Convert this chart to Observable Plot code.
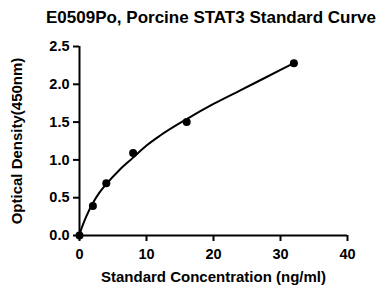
<!DOCTYPE html>
<html>
<head>
<meta charset="utf-8">
<script src="https://cdn.jsdelivr.net/npm/d3@7"></script>
<script src="https://cdn.jsdelivr.net/npm/@observablehq/plot@0.6"></script>
<style>
  body { margin: 0; background: #fff; font-family: "Liberation Sans", Arial, sans-serif; }
  #title { box-sizing: border-box; width: 385px; height: 32px; padding-top: 9px; padding-left: 37px;
    font-size: 17px; line-height: 17px; font-weight: bold; text-align: center; color: #000; white-space: nowrap; }
</style>
</head>
<body>
<div id="title">E0509Po, Porcine STAT3 Standard Curve</div>
<div id="chart"></div>
<script>
// Measured standards
const concentration = [0, 2, 4, 8, 16, 32];
const density = [0, 0.39, 0.69, 1.09, 1.50, 2.28];

// Fitted curve
const curveX = [0, 0.25, 0.5, 1, 2, 3, 4, 6, 8, 10, 12, 16, 20, 24, 28, 32];
const curveY = [0, 0.08, 0.14, 0.25, 0.43, 0.57, 0.68, 0.87, 1.03, 1.19, 1.32, 1.54, 1.74, 1.92, 2.10, 2.28];

const xTicks = [0, 10, 20, 30, 40];
const yTicks = [0, 0.5, 1.0, 1.5, 2.0, 2.5];

const points = concentration.map((c, i) => ({x: c, y: density[i]}));
const curve = curveX.map((c, i) => ({x: c, y: curveY[i]}));

const plot = Plot.plot({
  width: 385,
  height: 259,
  marginLeft: 79,
  marginRight: 38,
  marginTop: 14,
  marginBottom: 56,
  style: {fontFamily: '"Liberation Sans", Arial, sans-serif', fontSize: "15px", fontWeight: "bold", color: "#000", background: "#fff"},
  x: {domain: [0, 40]},
  y: {domain: [0, 2.5]},
  marks: [
    Plot.axisX({ticks: xTicks, tickSize: 6, tickPadding: 7, strokeWidth: 2, tickFormat: d3.format("d"),
      fontSize: 14.5, label: null}),
    Plot.axisX({ticks: [], label: "Standard Concentration (ng/ml)", labelAnchor: "center", labelArrow: "none", labelOffset: 46}),
    Plot.axisY({ticks: yTicks, tickSize: 6, tickPadding: 4, strokeWidth: 2, tickFormat: d3.format(".1f"),
      fontSize: 14.5, label: null}),
    Plot.axisY({ticks: [], label: "Optical Density(450nm)", labelAnchor: "center", labelArrow: "none", labelOffset: 68}),
    Plot.ruleX([0], {stroke: "#000", strokeWidth: 2}),
    Plot.ruleY([0], {stroke: "#000", strokeWidth: 2}),
    Plot.line(curve, {x: "x", y: "y", curve: "monotone-x", stroke: "#000", strokeWidth: 2}),
    Plot.dot(points, {x: "x", y: "y", r: 4, fill: "#000", stroke: "none"})
  ]
});
document.getElementById("chart").appendChild(plot);
</script>
</body>
</html>
